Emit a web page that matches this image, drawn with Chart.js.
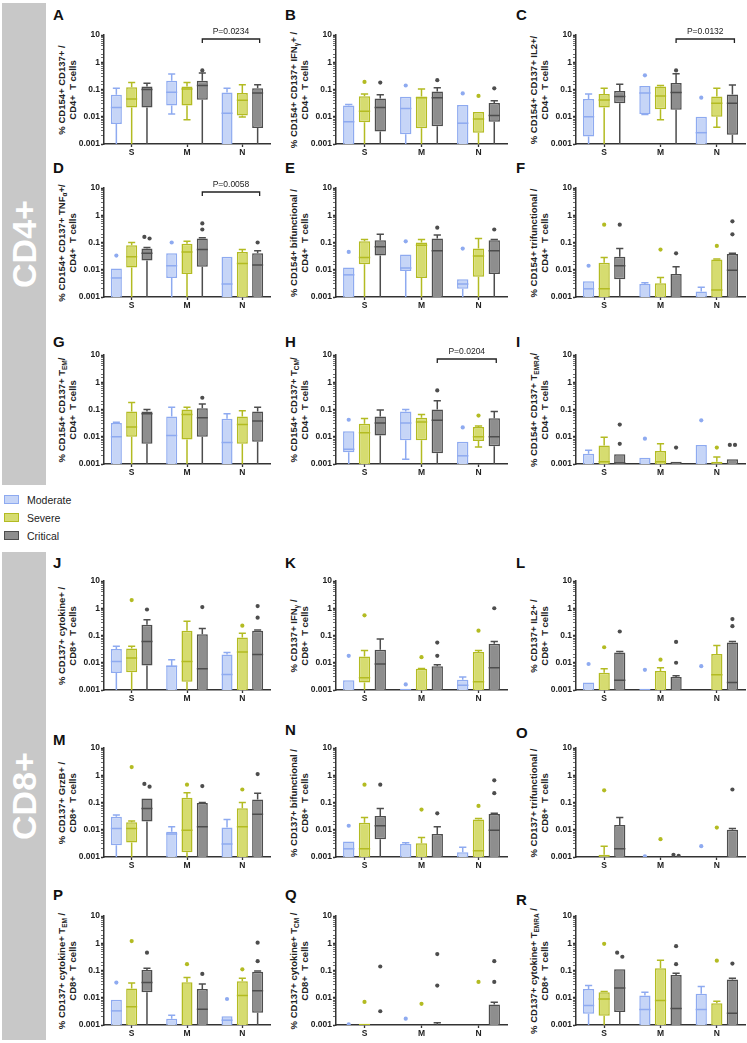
<!DOCTYPE html>
<html>
<head>
<meta charset="utf-8">
<script src="https://cdn.jsdelivr.net/npm/chart.js@4.4.1/dist/chart.umd.min.js"></script>
<style>
body { margin: 0; background: #fff; }
#page { position: relative; width: 747px; height: 1043px; overflow: hidden; font-family: 'Liberation Sans', Arial, sans-serif; }
.band { position: absolute; left: 2px; width: 44px; background: #c8c8c8; }
.band span { position: absolute; left: 50%; top: 50%; transform: translate(-50%, -50%) rotate(-90deg); color: #fff; font: bold 34px 'Liberation Sans', Arial, sans-serif; white-space: nowrap; }
.letter { position: absolute; font: bold 15px 'Liberation Sans Narrow', 'Liberation Sans', Arial, sans-serif; line-height: 16px; color: #111; }
.ytitle { position: absolute; transform: translate(-50%, -50%) rotate(-90deg); font: bold 9.5px 'Liberation Sans', Arial, sans-serif; line-height: 11px; text-align: center; white-space: nowrap; color: #222; }
.ytitle sub { font-size: 6.5px; vertical-align: -1.5px; line-height: 0; }
canvas { position: absolute; }
.leg { position: absolute; left: 4px; height: 12px; font: 10.5px 'Liberation Sans', Arial, sans-serif; color: #222; line-height: 12px; white-space: nowrap; }
.leg i { position: absolute; left: 0; top: 1px; width: 13px; height: 7px; border: 1.5px solid; }
.leg b { font-weight: normal; position: absolute; left: 23px; top: 0; }
</style>
</head>
<body>
<div id="page">
  <div class="band" style="top:3px;height:482px"><span>CD4+</span></div>
  <div class="band" style="top:552px;height:488px"><span>CD8+</span></div>
</div>
<script>
// groups / categories
var groups = ['Moderate', 'Severe', 'Critical'];
var categories = ['S', 'M', 'N'];
var yTicks = [0.001, 0.01, 0.1, 1, 10];
var yTickLabels = ['0.001', '0.01', '0.1', '1', '10'];

var fillColors = ['#c6d5f7', '#d6dc70', '#8e8e8e'];
var lineColors = ['#8eaaf0', '#b3bb22', '#4d4d4d'];

// z = below the 0.001 floor (runs into the axis), n = no median drawn
var z = 0.0003, n = null;

// each box: [low whisker, q1, median, q3, high whisker]; rows Moderate/Severe/Critical, cols S/M/N
var boxA = [
    [[z, 0.0054, 0.022, 0.064, 0.11], [0.0126, 0.026, 0.08, 0.21, 0.37], [z, z, 0.0135, 0.078, 0.11]],
    [[z, 0.022, 0.045, 0.12, 0.18], [0.0078, 0.026, 0.105, 0.13, 0.18], [0.0098, 0.011, 0.04, 0.074, 0.15]],
    [[z, 0.022, 0.1, 0.13, 0.17], [z, 0.042, 0.14, 0.21, 0.4], [z, 0.0039, 0.074, 0.11, 0.15]]];
var outA = [[[], [], []], [[], [], []], [[], [0.5], []]];

var boxB = [
    [[z, z, 0.0066, 0.026, 0.028], [z, 0.0023, 0.02, 0.054, 0.054], [z, z, 0.0058, 0.027, 0.027]],
    [[z, 0.0063, 0.016, 0.056, 0.068], [z, 0.0038, 0.05, 0.055, 0.104], [z, 0.0026, 0.0083, 0.015, 0.015]],
    [[z, 0.0029, 0.022, 0.047, 0.064], [z, 0.0045, 0.05, 0.085, 0.115], [z, 0.0066, 0.011, 0.032, 0.039]]];
var outB = [[[], [0.14], [0.072]], [[0.19], [], [0.058]], [[0.18], [0.22], [0.11]]];

var boxC = [
    [[z, 0.0019, 0.01, 0.045, 0.068], [0.012, 0.0126, 0.075, 0.135, 0.135], [z, z, 0.0026, 0.01, 0.01]],
    [[z, 0.022, 0.041, 0.068, 0.11], [0.0078, 0.019, 0.058, 0.13, 0.14], [0.0041, 0.01, 0.031, 0.055, 0.11]],
    [[z, 0.031, 0.055, 0.089, 0.155], [z, 0.018, 0.078, 0.175, 0.38], [z, 0.0022, 0.031, 0.066, 0.145]]];
var outC = [[[], [0.33], [0.05]], [[], [], []], [[], [0.5], []]];

var boxD = [
    [[z, z, 0.005, 0.011, 0.011], [z, 0.005, 0.014, 0.04, 0.04], [z, z, 0.003, 0.03, 0.03]],
    [[z, 0.012, 0.03, 0.08, 0.1], [z, 0.007, 0.045, 0.09, 0.11], [z, z, 0.017, 0.045, 0.055]],
    [[z, 0.022, 0.04, 0.06, 0.065], [z, 0.013, 0.055, 0.14, 0.15], [z, z, 0.015, 0.04, 0.05]]];
var outD = [[[0.033], [0.1], []], [[], [], []], [[0.14, 0.16], [0.3, 0.5], [0.1]]];

var boxE = [
    [[z, z, 0.0065, 0.012, 0.012], [z, 0.009, 0.0115, 0.036, 0.036], [z, 0.002, 0.003, 0.0045, 0.0045]],
    [[z, 0.016, 0.028, 0.11, 0.13], [z, 0.005, 0.08, 0.1, 0.13], [z, 0.0055, 0.032, 0.06, 0.14]],
    [[z, 0.033, 0.07, 0.12, 0.2], [z, z, 0.05, 0.14, 0.19], [z, 0.007, 0.05, 0.12, 0.13]]];
var outE = [[[0.045], [0.11], [0.06]], [[], [], []], [[], [0.35], [0.3]]];

var boxF = [
    [[z, z, 0.002, 0.0038, 0.0038], [z, z, n, 0.003, 0.0033], [z, z, n, 0.0016, 0.0023]],
    [[z, z, 0.002, 0.018, 0.028], [z, z, n, 0.0032, 0.0052], [z, z, 0.0018, 0.024, 0.025]],
    [[z, 0.0045, 0.014, 0.03, 0.06], [z, z, n, 0.007, 0.013], [z, z, 0.0095, 0.038, 0.04]]];
var outF = [[[0.014], [], []], [[0.45], [0.055], [0.075]], [[0.45], [0.04], [0.2, 0.6]]];

var boxG = [
    [[z, z, 0.01, 0.032, 0.034], [z, z, 0.011, 0.055, 0.12], [z, z, 0.0062, 0.046, 0.07]],
    [[z, 0.01, 0.023, 0.085, 0.18], [z, 0.008, 0.065, 0.1, 0.12], [z, 0.0055, 0.028, 0.055, 0.09]],
    [[z, 0.0055, 0.07, 0.085, 0.1], [z, 0.01, 0.05, 0.11, 0.16], [z, 0.0065, 0.038, 0.085, 0.12]]];
var outG = [[[], [], []], [[], [], []], [[], [0.27], []]];

var boxH = [
    [[z, 0.0027, 0.0035, 0.016, 0.016], [0.0015, 0.0075, 0.032, 0.085, 0.1], [z, z, 0.002, 0.0065, 0.0065]],
    [[z, z, 0.014, 0.03, 0.047], [z, 0.0075, 0.035, 0.05, 0.065], [0.0042, 0.007, 0.01, 0.023, 0.025]],
    [[z, 0.011, 0.032, 0.055, 0.095], [z, 0.0025, 0.04, 0.1, 0.21], [z, 0.0045, 0.01, 0.048, 0.085]]];
var outH = [[[0.042], [], [0.022]], [[], [], [0.06]], [[], [0.5], []]];

var boxI = [
    [[z, z, n, 0.0024, 0.0032], [z, z, n, 0.0017, 0.0017], [z, z, n, 0.005, 0.005]],
    [[z, z, 0.0012, 0.0048, 0.0095], [z, z, 0.0012, 0.003, 0.0055], [z, z, n, 0.0012, 0.0018]],
    [[z, z, 0.0011, 0.0023, 0.0023], [z, z, n, 0.0012, 0.0012], [z, z, n, 0.0015, 0.0015]]];
var outI = [[[], [0.0085], [0.04]], [[], [], [0.004]], [[0.0055, 0.028], [0.004], [0.005, 0.005]]];

var boxJ = [
    [[z, 0.0042, 0.011, 0.032, 0.04], [z, z, 0.0075, 0.008, 0.013], [z, z, 0.0037, 0.02, 0.024]],
    [[z, 0.0045, 0.015, 0.033, 0.04], [z, 0.002, 0.011, 0.15, 0.33], [z, z, 0.025, 0.085, 0.12]],
    [[z, 0.008, 0.06, 0.25, 0.38], [z, z, 0.006, 0.11, 0.18], [z, z, 0.02, 0.15, 0.16]]];
var outJ = [[[], [], []], [[2.0], [], [0.23]], [[0.9], [1.1], [0.45, 1.2]]];

var boxK = [
    [[z, z, n, 0.0023, 0.0023], [z, z, n, 0.0011, 0.0011], [z, z, 0.0015, 0.0024, 0.003]],
    [[z, 0.0019, 0.0028, 0.017, 0.028], [z, z, n, 0.006, 0.0062], [z, z, 0.002, 0.025, 0.028]],
    [[z, z, 0.009, 0.03, 0.075], [z, z, n, 0.0075, 0.0085], [z, z, 0.0065, 0.05, 0.06]]];
var outK = [[[0.018], [0.0016], []], [[0.55], [0.016], [0.15]], [[], [0.018, 0.055], [1.0]]];

var boxL = [
    [[z, z, n, 0.0019, 0.0019], [z, z, n, 0.0011, 0.0011], [z, z, n, 0.001, 0.001]],
    [[z, z, n, 0.0043, 0.006], [z, z, n, 0.005, 0.0065], [z, z, 0.0036, 0.021, 0.043]],
    [[z, z, 0.0023, 0.024, 0.026], [z, z, n, 0.003, 0.0033], [z, z, 0.0019, 0.055, 0.06]]];
var outL = [[[0.009], [0.0055], [0.0075]], [[0.037], [0.013], []], [[0.14], [0.01, 0.058], [0.22, 0.4]]];

var boxM = [
    [[z, 0.0027, 0.011, 0.03, 0.035], [z, z, 0.007, 0.0085, 0.013], [z, z, 0.003, 0.012, 0.024]],
    [[z, 0.0034, 0.011, 0.019, 0.021], [z, 0.0015, 0.0095, 0.15, 0.23], [z, z, 0.013, 0.062, 0.1]],
    [[z, 0.02, 0.06, 0.14, 0.14], [z, z, 0.013, 0.095, 0.1], [z, z, 0.037, 0.13, 0.22]]];
var outM = [[[], [], []], [[2.0], [0.45], [0.3]], [[0.38, 0.48], [0.4], [1.1]]];

var boxN = [
    [[z, z, 0.002, 0.0037, 0.0037], [z, z, n, 0.003, 0.0033], [z, z, n, 0.0015, 0.0023]],
    [[z, z, 0.002, 0.018, 0.028], [z, z, n, 0.0032, 0.0052], [z, z, 0.0017, 0.024, 0.026]],
    [[z, 0.0045, 0.014, 0.032, 0.06], [z, z, n, 0.007, 0.013], [z, z, 0.0095, 0.038, 0.04]]];
var outN = [[[0.014], [], []], [[0.45], [0.055], [0.075]], [[0.45], [0.04], [0.22, 0.65]]];

var boxO = [
    [[z, z, n, z, z], [z, z, n, z, z], [z, z, n, z, z]],
    [[z, z, n, 0.0012, 0.0025], [z, z, n, z, z], [z, z, n, z, z]],
    [[z, z, 0.002, 0.015, 0.028], [z, z, n, z, z], [z, z, n, 0.01, 0.011]]];
var outO = [[[], [0.00105], [0.0025]], [[0.28], [0.0045], [0.012]], [[], [0.0011, 0.0012], [0.3]]];

var boxP = [
    [[z, z, 0.0033, 0.0085, 0.0085], [z, z, n, 0.0017, 0.0023], [z, z, 0.0015, 0.0021, 0.0021]],
    [[z, z, 0.0047, 0.022, 0.035], [z, z, n, 0.037, 0.055], [z, z, 0.012, 0.04, 0.052]],
    [[z, 0.016, 0.036, 0.105, 0.12], [z, z, 0.0038, 0.021, 0.032], [z, 0.0028, 0.018, 0.09, 0.095]]];
var outP = [[[0.036], [], [0.009]], [[1.2], [0.17], [0.11]], [[0.45], [0.075], [0.22, 1.05]]];

var boxQ = [
    [[z, z, n, z, z], [z, z, n, z, z], [z, z, n, z, z]],
    [[z, z, n, 0.0011, 0.0011], [z, z, n, z, z], [z, z, n, z, z]],
    [[z, z, n, z, z], [z, z, n, z, 0.0012], [z, z, n, 0.0057, 0.0068]]];
var outQ = [[[0.00105], [0.0017], []], [[0.007], [0.006], [0.038]], [[0.0032, 0.14], [0.028, 0.4], [0.038, 0.22]]];

var boxR = [
    [[z, 0.0026, 0.0052, 0.021, 0.028], [z, z, 0.0037, 0.012, 0.016], [z, z, 0.0037, 0.014, 0.026]],
    [[z, 0.0022, 0.009, 0.016, 0.017], [z, z, 0.008, 0.12, 0.24], [z, z, n, 0.0063, 0.0075]],
    [[z, 0.003, 0.023, 0.11, 0.11], [z, z, 0.004, 0.068, 0.08], [z, z, 0.0027, 0.047, 0.052]]];
var outR = [[[], [], []], [[0.95], [], [0.23]], [[0.32, 0.45], [0.17, 0.78], [0.18]]];

var panelIds = ['A', 'B', 'C', 'D', 'E', 'F', 'G', 'H', 'I', 'J', 'K', 'L', 'M', 'N', 'O', 'P', 'Q', 'R'];
var panelBoxes = [boxA, boxB, boxC, boxD, boxE, boxF, boxG, boxH, boxI, boxJ, boxK, boxL, boxM, boxN, boxO, boxP, boxQ, boxR];
var panelOuts = [outA, outB, outC, outD, outE, outF, outG, outH, outI, outJ, outK, outL, outM, outN, outO, outP, outQ, outR];
var pValues = ['P=0.0234', '', 'P=0.0132', 'P=0.0058', '', '', '', 'P=0.0204', '', '', '', '', '', '', '', '', '', ''];
var yTitles = [
    ['% CD154+ CD137+ /', 'CD4+&nbsp; T cells'],
    ['% CD154+ CD137+ IFN<sub>γ</sub>+ /', 'CD4+&nbsp; T cells'],
    ['% CD154+ CD137+ IL2+/', 'CD4+&nbsp; T cells'],
    ['% CD154+ CD137+ TNF<sub>α</sub>+/', 'CD4+&nbsp; T cells'],
    ['% CD154+ bifunctional /', 'CD4+&nbsp; T cells'],
    ['% CD154+ trifunctional /', 'CD4+&nbsp; T cells'],
    ['% CD154+ CD137+ T<sub>EM</sub>/', 'CD4+&nbsp; T cells'],
    ['% CD154+ CD137+ T<sub>CM</sub>/', 'CD4+&nbsp; T cells'],
    ['% CD154+ CD137+ T<sub>EMRA</sub>/', 'CD4+&nbsp; T cells'],
    ['% CD137+ cytokine+ /', 'CD8+&nbsp; T cells'],
    ['% CD137+ IFN<sub>γ</sub> /', 'CD8+&nbsp; T cells'],
    ['% CD137+ IL2+ /', 'CD8+&nbsp; T cells'],
    ['% CD137+ GrzB+ /', 'CD8+&nbsp; T cells'],
    ['% CD137+ bifunctional /', 'CD8+&nbsp; T cells'],
    ['% CD137+ trifunctional /', 'CD8+&nbsp; T cells'],
    ['% CD137+ cytokine+ T<sub>EM</sub> /', 'CD8+&nbsp; T cells'],
    ['% CD137+ cytokine+ T<sub>CM</sub> /', 'CD8+&nbsp; T cells'],
    ['% CD137+ cytokine+ T<sub>EMRA</sub> /', 'CD8+&nbsp; T cells']];

// layout (pixels)
var colLeft = [104, 336, 576], colWidth = [166, 171, 169], letterLeft = [53, 285, 516];
var rowTop = [35, 188, 355, 581, 748, 916], plotH = 109;
var letterMid = [15, 15, 15, 168, 168, 168, 342, 342, 342, 563, 563, 563, 740, 730, 733, 895, 895, 900];
var PADT = 14, AXW = 34, AXH = 18, PADR = 3;
var tickFont = { family: "'Liberation Sans Narrow', 'Liberation Sans', Arial, sans-serif", size: 8.5, weight: 'bold' };

var page = document.getElementById('page');

function isMajor(v) {
    return yTicks.some(function (t) { return Math.abs(t - v) / t < 1e-6; });
}

function boxPlugin(stats, outs, pText) {
    return {
        id: 'boxPlot',
        afterDatasetsDraw: function (chart) {
            var ctx = chart.ctx, a = chart.chartArea, y = chart.scales.y;
            var py = function (v) { return y.getPixelForValue(v); };
            ctx.save();
            ctx.beginPath();
            ctx.rect(a.left, a.top - 3, a.width + 3, a.height + 3);
            ctx.clip();
            ctx.lineWidth = 1.5;
            stats.forEach(function (row, g) {
                var bars = chart.getDatasetMeta(g).data;
                row.forEach(function (s, c) {
                    var x = bars[c].x, w = bars[c].width, cw = w * 0.32;
                    var lo = s[0], q1 = s[1], med = s[2], q3 = s[3], hi = s[4];
                    ctx.strokeStyle = lineColors[g];
                    ctx.beginPath();
                    if (hi > q3) {
                        ctx.moveTo(x, py(q3)); ctx.lineTo(x, py(hi));
                        ctx.moveTo(x - cw, py(hi)); ctx.lineTo(x + cw, py(hi));
                    }
                    if (lo < q1) {
                        ctx.moveTo(x, py(q1)); ctx.lineTo(x, py(lo));
                        if (lo > z) { ctx.moveTo(x - cw, py(lo)); ctx.lineTo(x + cw, py(lo)); }
                    }
                    if (med) { ctx.moveTo(x - w / 2, py(med)); ctx.lineTo(x + w / 2, py(med)); }
                    ctx.stroke();
                    // outliers, spread sideways when they nearly overlap
                    var pts = outs[g][c].map(py).sort(function (p, q) { return p - q; });
                    ctx.fillStyle = lineColors[g];
                    pts.forEach(function (p, i) {
                        var dx = 0;
                        if (i > 0 && Math.abs(p - pts[i - 1]) < 5) dx = 2.6;
                        if (i < pts.length - 1 && Math.abs(pts[i + 1] - p) < 5) dx = -2.6;
                        ctx.beginPath();
                        ctx.arc(x + dx, p, 2.1, 0, Math.PI * 2);
                        ctx.fill();
                    });
                });
            });
            ctx.restore();

            if (pText) {
                var bs = chart.getDatasetMeta(2).data;
                var x1 = bs[1].x, x2 = bs[2].x + 2, yb = py(10) + 4;
                ctx.save();
                ctx.strokeStyle = '#222';
                ctx.lineWidth = 1.3;
                ctx.beginPath();
                ctx.moveTo(x1, yb + 4); ctx.lineTo(x1, yb); ctx.lineTo(x2, yb); ctx.lineTo(x2, yb + 4);
                ctx.stroke();
                ctx.fillStyle = '#222';
                ctx.font = "8.5px 'Liberation Sans', Arial, sans-serif";
                ctx.textAlign = 'center';
                ctx.textBaseline = 'middle';
                ctx.fillText(pText, (x1 + x2) / 2, yb - 7);
                ctx.restore();
            }
        }
    };
}

function makePanel(i) {
    var col = i % 3, row = Math.floor(i / 3);
    var left = colLeft[col], w = colWidth[col], top = rowTop[row];
    var stats = panelBoxes[i];

    var letter = document.createElement('div');
    letter.className = 'letter';
    letter.style.left = letterLeft[col] + 'px';
    letter.style.top = (letterMid[i] - 8) + 'px';
    letter.textContent = panelIds[i];
    page.appendChild(letter);

    var t = document.createElement('div');
    t.className = 'ytitle';
    t.style.left = (left - 37) + 'px';
    t.style.top = (top + plotH / 2) + 'px';
    t.innerHTML = yTitles[i][0] + '<br>' + yTitles[i][1];
    page.appendChild(t);

    var cv = document.createElement('canvas');
    cv.width = AXW + w + PADR;
    cv.height = PADT + plotH + AXH;
    cv.style.left = (left - AXW) + 'px';
    cv.style.top = (top - PADT) + 'px';
    page.appendChild(cv);

    new Chart(cv, {
        type: 'bar',
        data: {
            labels: categories,
            datasets: groups.map(function (g, k) {
                return {
                    label: g,
                    data: stats[k].map(function (s) { return [s[1], s[3]]; }),
                    backgroundColor: fillColors[k],
                    borderColor: lineColors[k],
                    borderWidth: 1.5,
                    borderSkipped: false,
                    categoryPercentage: 0.83,
                    barPercentage: 0.72,
                };
            })
        },
        options: {
            responsive: false,
            animation: false,
            devicePixelRatio: 1,
            layout: { padding: { top: PADT, right: PADR, left: 0, bottom: 0 } },
            plugins: { legend: { display: false }, tooltip: { enabled: false } },
            scales: {
                x: {
                    grid: { offset: false, drawOnChartArea: false, tickLength: 3, tickColor: '#333', tickWidth: 1.3 },
                    border: { color: '#333', width: 1.5 },
                    ticks: { font: tickFont, color: '#222', padding: 1, maxRotation: 0 },
                    afterFit: function (s) { s.height = AXH; }
                },
                y: {
                    type: 'logarithmic',
                    min: 0.001,
                    max: 10,
                    grid: {
                        drawOnChartArea: false,
                        tickLength: 3,
                        tickColor: '#333',
                        tickWidth: function (c) { return c.tick && isMajor(c.tick.value) ? 1.3 : 0.7; }
                    },
                    border: { color: '#333', width: 1.5 },
                    ticks: {
                        autoSkip: false,
                        font: tickFont,
                        color: '#222',
                        padding: 1,
                        callback: function (v) {
                            var k = yTicks.findIndex(function (t) { return Math.abs(t - v) / t < 1e-6; });
                            return k < 0 ? '' : yTickLabels[k];
                        }
                    },
                    afterFit: function (s) { s.width = AXW; }
                }
            }
        },
        plugins: [boxPlugin(stats, panelOuts[i], pValues[i])]
    });
}

for (var i = 0; i < panelIds.length; i++) makePanel(i);

// legend
var legTop = [494, 512, 530];
groups.forEach(function (g, k) {
    var d = document.createElement('div');
    d.className = 'leg';
    d.style.top = legTop[k] + 'px';
    d.innerHTML = '<i style="background:' + fillColors[k] + ';border-color:' + lineColors[k] + '"></i><b>' + g + '</b>';
    page.appendChild(d);
});
</script>
</body>
</html>
